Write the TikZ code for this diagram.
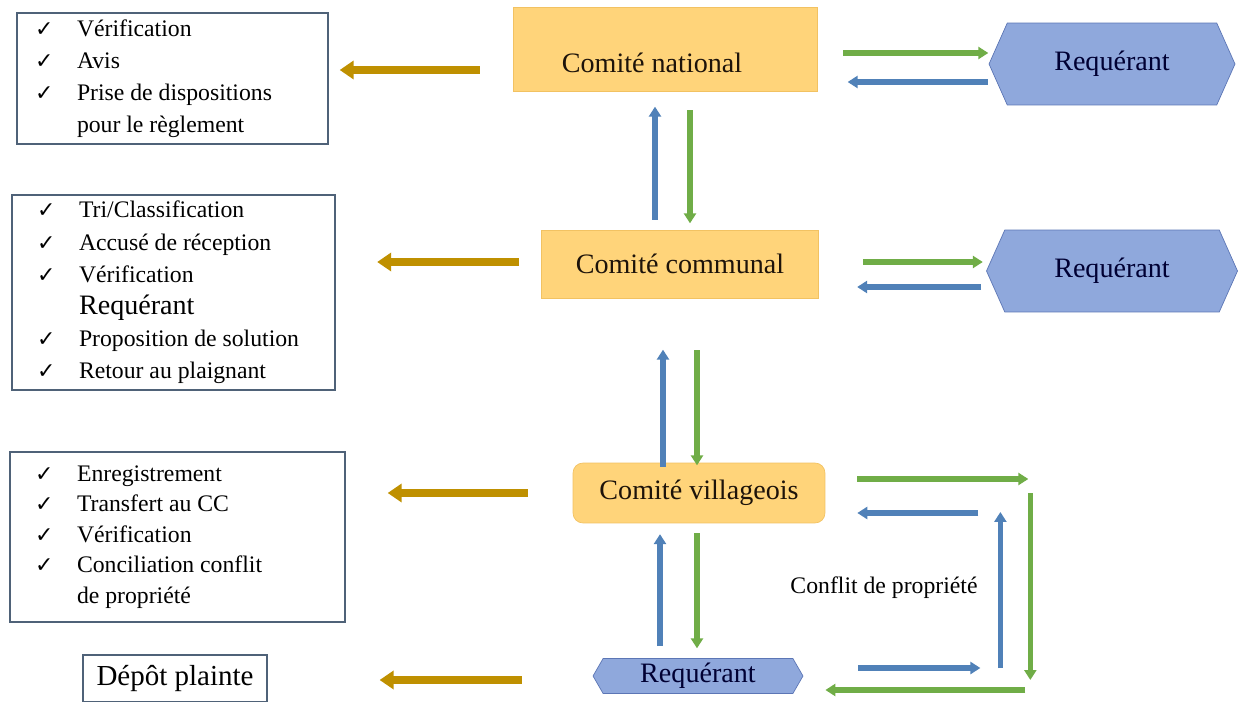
\documentclass[tikz,border=0pt]{standalone}
\usepackage{fontspec}
\setmainfont{Liberation Serif}
\newfontfamily\symfont{DejaVu Sans}
\usetikzlibrary{arrows.meta,shapes.symbols}

\definecolor{cgold}{HTML}{BF9000}
\definecolor{cgreen}{HTML}{70AD47}
\definecolor{cblue}{HTML}{5081B8}
\definecolor{corange}{HTML}{FFD47A}
\definecolor{corline}{HTML}{F2C262}
\definecolor{chex}{HTML}{8FA8DC}
\definecolor{chexline}{HTML}{5C76B5}
\definecolor{clist}{HTML}{4F6278}

\newcommand{\chk}{\makebox[0.84cm][l]{\symfont\fontsize{12.5}{12}\selectfont ✓}}
\newcommand{\nochk}{\makebox[0.84cm]{}}

\begin{document}
\begin{tikzpicture}[x=0.02cm, y=-0.02cm,
	comite/.style={draw=corline, fill=corange, text=black!85!brown, font=\fontsize{16}{18}\selectfont},
	reqhex/.style={signal, signal to=east and west, draw=chexline, fill=chex, text=black!80!blue, font=\fontsize{16}{18}\selectfont, inner sep=0pt},
	taskbox/.style={draw=clist, line width=0.9pt, align=flush left, inner ysep=0pt, font=\fontsize{13.5}{18.3}\selectfont},
	goldarr/.style={cgold, line width=5pt, -{Triangle[width=0.36cm, length=0.28cm]}},
	greenarr/.style={cgreen, line width=3.2pt, -{Triangle[width=0.24cm, length=0.2cm]}},
	bluearr/.style={cblue, line width=3.2pt, -{Triangle[width=0.24cm, length=0.2cm]}}]
	\useasboundingbox (0,0) rectangle (1241,702);

	% comites
	\node (nat) [comite, minimum width=6.08cm, minimum height=1.68cm] at (665,49)
		{\raisebox{-0.48cm}[0pt][0pt]{\makebox[0pt]{\hspace{-0.52cm}Comité national}}};
	\node (com) [comite, minimum width=5.54cm, minimum height=1.36cm] at (680,264) {Comité communal};
	\node (vil) [comite, rounded corners=0.2cm, minimum width=5.04cm, minimum height=1.2cm] at (699,493) {Comité villageois};

	% requerants
	\node (req1) [reqhex, signal pointer angle=132, minimum width=4.92cm, minimum height=1.64cm] at (1112,64) {Requérant};
	\node (req2) [reqhex, signal pointer angle=132, minimum width=5.02cm, minimum height=1.64cm] at (1112,271) {Requérant};
	\node (req3) [reqhex, signal pointer angle=120, minimum width=4.2cm, minimum height=0.7cm] at (698,676) {\raisebox{-0.06cm}{Requérant}};

	% listes de taches
	\node (lst1) [taskbox, inner xsep=0.36cm, text width=5.5cm, minimum width=6.22cm, minimum height=2.62cm] at (172.5,78.5)
		{\chk Vérification\\ \chk Avis\\ \chk Prise de dispositions\\ \nochk pour le règlement};
	\node (lst2) [taskbox, inner xsep=0.5cm, text width=5.46cm, minimum width=6.46cm, minimum height=3.9cm] at (173.5,292.5)
		{\chk Tri/Classification\\ \chk Accusé de réception\\ \chk Vérification\\ \nochk{\fontsize{16}{18}\selectfont Requérant}\\ \chk Proposition de solution\\ \chk Retour au plaignant};
	\node (lst3) [taskbox, font=\fontsize{13.5}{17.4}\selectfont, inner xsep=0.5cm, text width=5.7cm, minimum width=6.7cm, minimum height=3.4cm] at (177.5,537)
		{\chk Enregistrement\\ \chk Transfert au CC\\ \chk Vérification\\ \chk Conciliation conflit\\ \nochk de propriété};
	\node (depot) [draw=clist, line width=0.9pt, font=\fontsize{16.5}{18}\selectfont, minimum width=3.68cm, minimum height=0.94cm] at (175,678.5) {Dépôt plainte};

	\node (conflit) [font=\fontsize{13.5}{16}\selectfont] at (884,588) {Conflit de propriété};

	% vers les listes
	\draw[goldarr] (nat.west) ++(-33,21) -- ++(-140,0);
	\draw[goldarr] (com.west) ++(-22,-2) -- ++(-142,0);
	\draw[goldarr] (vil.west) ++(-45,0) -- ++(-140,0);
	\draw[goldarr] (req3.west) ++(-71,4) -- ++(-142,0);

	% national <-> requerant
	\draw[greenarr] (nat.east) ++(26,4) -- ++(145,0);
	\draw[bluearr] (req1.west) ++(-1,18) -- ++(-140,0);
	\draw[bluearr] (com.north) ++(-25,-10) -- ++(0,-113);
	\draw[greenarr] (nat.south) ++(25,19) -- ++(0,113);

	% communal <-> requerant
	\draw[greenarr] (com.east) ++(44,-2) -- ++(120,0);
	\draw[bluearr] (req2.west) ++(-5,16) -- ++(-124,0);
	\draw[bluearr] (vil.north) ++(-36,4) -- ++(0,-117);
	\draw[greenarr] (com.south) ++(17,52) -- ++(0,115);

	% villageois <-> requerant
	\draw[bluearr] (req3.north) ++(-38,-12) -- ++(0,-112);
	\draw[greenarr] (vil.south) ++(-2,10) -- ++(0,115);

	% boucle conflit de propriete
	\draw[greenarr] (vil.east) ++(32,-14) -- ++(171,0);
	\draw[bluearr] (vil.east) ++(153,20) -- ++(-121,0);
	\draw[greenarr] (vil.east) ++(205,0) -- ++(0,187);
	\draw[bluearr] (req3.east) ++(197,-8) -- ++(0,-156);
	\draw[bluearr] (req3.east) ++(55,-8) -- ++(122,0);
	\draw[greenarr] (req3.east) ++(222,14) -- ++(-200,0);
\end{tikzpicture}
\end{document}
